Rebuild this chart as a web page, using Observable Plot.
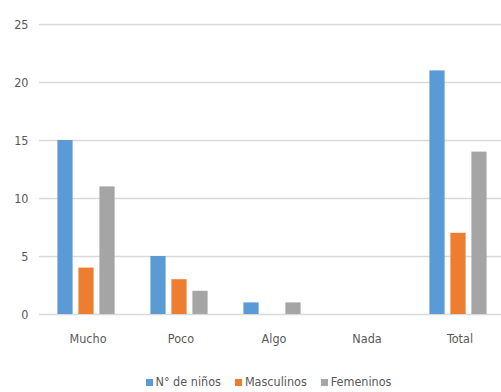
<!DOCTYPE html>
<html><head><meta charset="utf-8">
<script src="https://cdn.jsdelivr.net/npm/d3@7"></script>
<script src="https://cdn.jsdelivr.net/npm/@observablehq/plot@0.6"></script>
<style>
body{margin:0;background:#fff;font-family:"DejaVu Sans Condensed","DejaVu Sans",sans-serif;font-stretch:condensed;}
#legend{display:flex;justify-content:center;align-items:center;gap:14px;height:30px;padding-top:4px;padding-left:36px;width:465px;font-size:12.5px;color:#595959;}
#legend span.sw{display:inline-block;width:7px;height:7px;margin-right:3px;vertical-align:middle;}
</style></head>
<body><div id="chart"></div><div id="legend"></div>
<script>
const categories = ["Mucho","Poco","Algo","Nada","Total"];
const seriesNames = ["N° de niños","Masculinos","Femeninos"];
const ninos = [15,5,1,0,21];
const masculinos = [4,3,0,0,7];
const femeninos = [11,2,1,0,14];
const yTicks = [0,5,10,15,20,25];
const colors = ["#5b9bd5","#ed7d31","#a5a5a5"];

const seriesValues = [ninos, masculinos, femeninos];
const data = seriesValues.flatMap((vals, s) => categories.map((c, i) => ({category: c, series: seriesNames[s], value: vals[i]})));

const xLeft = 39, xRight = 508;
const step = (xRight - xLeft) / categories.length;
const barW = 16, gap = 5;
const groupW = barW * 3 + gap * 2;
const start = (step - groupW) / 2 - 1.5;

const barMarks = seriesNames.map((name, s) => Plot.barY(data.filter(d => d.series === name), {
  x: "category", y: "value", fill: colors[s],
  insetLeft: start + s * (barW + gap),
  insetRight: step - (start + s * (barW + gap) + barW)
}));

const plot = Plot.plot({
  width: 501, height: 362,
  marginTop: 24, marginBottom: 48, marginLeft: 39, marginRight: 0,
  style: {fontFamily: '"DejaVu Sans Condensed","DejaVu Sans",sans-serif', fontStretch: "condensed", fontSize: "12.5px", color: "#595959", background: "#fff"},
  x: {domain: categories, range: [xLeft, xRight], padding: 0, label: null, tickSize: 0, tickPadding: 20},
  y: {domain: [0, 25], ticks: yTicks, label: null, tickSize: 0, tickPadding: 11},
  marks: [
    Plot.gridY(yTicks, {stroke: "#d9d9d9", strokeOpacity: 1, strokeWidth: 1.4}),
    ...barMarks
  ]
});
document.getElementById("chart").appendChild(plot);

const leg = document.getElementById("legend");
seriesNames.forEach((n, i) => {
  const d = document.createElement("div");
  d.innerHTML = `<span class="sw" style="background:${colors[i]}"></span>${n}`;
  leg.appendChild(d);
});
</script></body></html>
